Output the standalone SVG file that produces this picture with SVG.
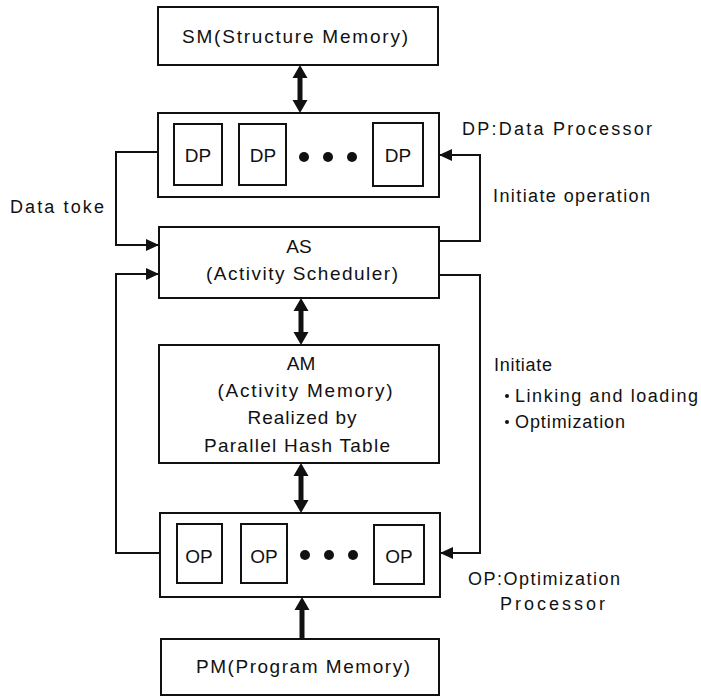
<svg xmlns="http://www.w3.org/2000/svg" width="701" height="696" viewBox="0 0 701 696">
<style>
.box{fill:#fff;stroke:#111;stroke-width:2}
.sub{fill:#fff;stroke:#111;stroke-width:2}
.t{font-family:"Liberation Sans",Arial,sans-serif;font-size:19px;fill:#111;text-anchor:middle}
.s{font-family:"Liberation Sans",Arial,sans-serif;font-size:18px;fill:#111}
.line{fill:none;stroke:#111;stroke-width:2}
.thick{fill:#111;stroke:none}
</style>
<defs>
<marker id="ah" markerUnits="userSpaceOnUse" markerWidth="14" markerHeight="12" refX="13" refY="6" orient="auto">
<path d="M0,0 L13,6 L0,12 Z" fill="#111"/>
</marker>
</defs>
<rect width="701" height="696" fill="#fff"/>

<g id="SM">
<rect class="box" x="158" y="7" width="280" height="58"/>
<text class="t" x="295" y="43" font-size="20" textLength="226" lengthAdjust="spacing">SM(Structure Memory)</text>
</g>

<g id="DP">
<rect class="box" x="158" y="113" width="281" height="84"/>
<rect class="sub" x="174" y="124" width="48" height="61"/>
<text class="t" x="198" y="162" font-size="20">DP</text>
<rect class="sub" x="239" y="124" width="47" height="61"/>
<text class="t" x="263" y="162" font-size="20">DP</text>
<circle cx="304" cy="157" r="5" fill="#111"/>
<circle cx="328" cy="157" r="5" fill="#111"/>
<circle cx="352" cy="157" r="5" fill="#111"/>
<rect class="sub" x="373" y="123" width="50" height="63"/>
<text class="t" x="398" y="162" font-size="20">DP</text>
</g>

<g id="AS">
<rect class="box" x="159" y="227" width="280" height="71"/>
<text class="t" x="299" y="253" font-size="20">AS</text>
<text class="t" x="302" y="280" font-size="20" textLength="192" lengthAdjust="spacing">(Activity Scheduler)</text>
</g>

<g id="AM">
<rect class="box" x="159" y="345" width="280" height="118"/>
<text class="t" x="301" y="370">AM</text>
<text class="t" x="305" y="397" textLength="175" lengthAdjust="spacing">(Activity Memory)</text>
<text class="t" x="302" y="424" textLength="109" lengthAdjust="spacing">Realized by</text>
<text class="t" x="297" y="452" textLength="186" lengthAdjust="spacing">Parallel Hash Table</text>
</g>

<g id="OP">
<rect class="box" x="160" y="513" width="280" height="84"/>
<rect class="sub" x="177" y="524" width="45" height="59"/>
<text class="t" x="199" y="563" font-size="20">OP</text>
<rect class="sub" x="241" y="524" width="46" height="59"/>
<text class="t" x="264" y="563" font-size="20">OP</text>
<circle cx="305" cy="555" r="5" fill="#111"/>
<circle cx="329" cy="555" r="5" fill="#111"/>
<circle cx="353" cy="555" r="5" fill="#111"/>
<rect class="sub" x="374" y="525" width="50" height="59"/>
<text class="t" x="399" y="563" font-size="20">OP</text>
</g>

<g id="PM">
<rect class="box" x="161" y="639" width="278" height="56"/>
<text class="t" x="303" y="673" font-size="20" textLength="214" lengthAdjust="spacing">PM(Program Memory)</text>
</g>

<g id="labels">
<text class="s" x="462" y="135" textLength="190" lengthAdjust="spacing">DP:Data Processor</text>
<text class="s" x="493" y="202" textLength="157" lengthAdjust="spacing">Initiate operation</text>
<text class="s" x="10" y="213" textLength="94" lengthAdjust="spacing">Data toke</text>
<text class="s" x="494" y="371" textLength="58" lengthAdjust="spacing">Initiate</text>
<circle cx="507" cy="396" r="2" fill="#111"/>
<text class="s" x="515" y="402" textLength="183" lengthAdjust="spacing">Linking and loading</text>
<circle cx="507" cy="422" r="2" fill="#111"/>
<text class="s" x="515" y="428" textLength="110" lengthAdjust="spacing">Optimization</text>
<text class="s" x="468" y="585" textLength="152" lengthAdjust="spacing">OP:Optimization</text>
<text class="s" x="500" y="610" textLength="105" lengthAdjust="spacing">Processor</text>
</g>

<g id="connectors">
<polyline class="line" points="158,152 116,152 116,245 159,245" marker-end="url(#ah)"/>
<polyline class="line" points="160,553 116,553 116,274 159,274" marker-end="url(#ah)"/>
<polyline class="line" points="439,241 480,241 480,155 439,155" marker-end="url(#ah)"/>
<polyline class="line" points="439,275 480,275 480,553 440,553" marker-end="url(#ah)"/>
<polygon class="thick" points="300,65 307.5,78 302.5,78 302.5,100 307.5,100 300,113 292.5,100 297.5,100 297.5,78 292.5,78"/>
<polygon class="thick" points="301,298 308.5,311 303.5,311 303.5,332 308.5,332 301,345 293.5,332 298.5,332 298.5,311 293.5,311"/>
<polygon class="thick" points="301,463 308.5,476 303.5,476 303.5,500 308.5,500 301,513 293.5,500 298.5,500 298.5,476 293.5,476"/>
<polygon class="thick" points="302,597 309.5,610 304.5,610 304.5,639 299.5,639 299.5,610 294.5,610"/>
</g>
</svg>
